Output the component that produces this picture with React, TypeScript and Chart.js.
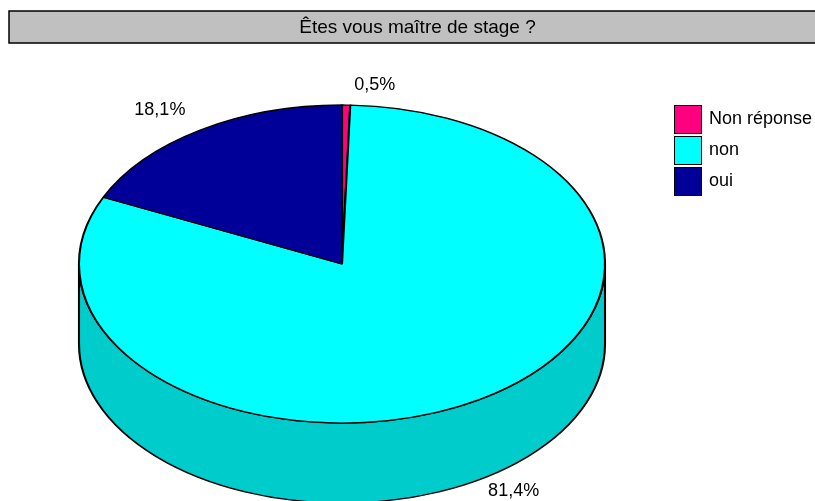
import React, { useEffect, useRef } from 'react';
import { Chart, registerables } from 'chart.js';
Chart.register(...registerables);

const TITLE = 'Êtes vous maître de stage ?';
const categories = ['Non réponse', 'non', 'oui'];
const values = [0.5, 81.4, 18.1];
const valueLabels = ['0,5%', '81,4%', '18,1%'];
const topColors = ['#FF0080', '#00FFFF', '#000099'];
const sideColors = ['#CC0066', '#00CCCC', '#000066'];

const W = 815;
const H = 501;
const CX = 342;
const CY = 264;
const RX = 263;
const RY = 159;
const DEPTH = 80;
const FONT = '"Liberation Sans", Arial, sans-serif';

const pie3d = {
  id: 'pie3d',
  beforeDatasetsDraw(chart: any) {
    const ctx = chart.ctx as CanvasRenderingContext2D;
    const meta = chart.getDatasetMeta(0);
    const first = meta.data[0] as any;
    const { x, y, outerRadius: R } = first.getProps(['x', 'y', 'outerRadius'], true);
    const sx = RX / R;
    const sy = RY / R;
    ctx.save();
    ctx.translate(CX, CY);
    ctx.scale(sx, sy);
    ctx.translate(-x, -y);
    const d = DEPTH / sy;
    meta.data.forEach((el: any, i: number) => {
      const p = el.getProps(['startAngle', 'endAngle'], true);
      for (let k = -1; k <= 1; k++) {
        const lo = Math.max(p.startAngle, 2 * Math.PI * k);
        const hi = Math.min(p.endAngle, Math.PI + 2 * Math.PI * k);
        if (hi > lo) {
          ctx.beginPath();
          ctx.moveTo(x + R * Math.cos(lo), y + R * Math.sin(lo));
          ctx.arc(x, y, R, lo, hi, false);
          ctx.lineTo(x + R * Math.cos(hi), y + d + R * Math.sin(hi));
          ctx.arc(x, y + d, R, hi, lo, true);
          ctx.closePath();
          ctx.fillStyle = sideColors[i];
          ctx.fill();
          ctx.lineWidth = 1.9;
          ctx.strokeStyle = '#000';
          ctx.lineJoin = 'round';
          ctx.stroke();
        }
      }
    });
  },
  afterDatasetsDraw(chart: any) {
    chart.ctx.restore();
  },
  afterDraw(chart: any) {
    const ctx = chart.ctx as CanvasRenderingContext2D;
    // title box
    ctx.save();
    ctx.fillStyle = '#C0C0C0';
    ctx.fillRect(9, 11, 817, 32);
    ctx.lineWidth = 1.5;
    ctx.strokeStyle = '#000';
    ctx.strokeRect(9, 11, 817, 32);
    ctx.fillStyle = '#000';
    ctx.font = `19px ${FONT}`;
    ctx.textAlign = 'center';
    ctx.textBaseline = 'middle';
    ctx.fillText(TITLE, 417.5, 28);

    // legend
    ctx.font = `18px ${FONT}`;
    categories.forEach((c, i) => {
      const by = 105 + i * 31;
      ctx.fillStyle = topColors[i];
      ctx.fillRect(674, by, 28, 29);
      ctx.lineWidth = 1;
      ctx.strokeStyle = '#000';
      ctx.strokeRect(674.5, by + 0.5, 27, 28);
      ctx.fillStyle = '#000';
      ctx.textAlign = 'left';
      ctx.textBaseline = 'middle';
      ctx.fillText(c, 709, by + 14);
    });

    // value labels
    const meta = chart.getDatasetMeta(0);
    meta.data.forEach((el: any, i: number) => {
      const p = el.getProps(['startAngle', 'endAngle'], true);
      const th = (p.startAngle + p.endAngle) / 2;
      const c = Math.cos(th);
      const s = Math.sin(th);
      const ex = CX + RX * c;
      const ey = CY + RY * s + (s > 0 ? DEPTH : 0);
      ctx.fillStyle = '#000';
      ctx.textBaseline = 'middle';
      if (c >= 0) {
        ctx.textAlign = 'left';
        ctx.fillText(valueLabels[i], ex + 8, ey + (s < 0 ? -20 : 12));
      } else {
        ctx.textAlign = 'right';
        ctx.fillText(valueLabels[i], ex - 15, ey + (s < 0 ? -20 : 12));
      }
    });
    ctx.restore();
  },
};

export default function App() {
  const ref = useRef<HTMLCanvasElement>(null);
  useEffect(() => {
    if (!ref.current) return;
    const chart = new Chart(ref.current, {
      type: 'pie',
      data: {
        labels: categories,
        datasets: [
          {
            data: values,
            backgroundColor: topColors,
            borderColor: '#000',
            borderWidth: 1.9,
            clip: false as any,
          },
        ],
      },
      options: {
        animation: false,
        responsive: false,
        devicePixelRatio: 1,
        layout: { padding: 10 },
        plugins: {
          legend: { display: false },
          title: { display: false },
          tooltip: { enabled: false },
        },
        events: [],
      },
      plugins: [pie3d],
    });
    return () => chart.destroy();
  }, []);
  return (
    <div style={{ position: 'fixed', left: 0, top: 0, width: W, height: H, background: '#fff' }}>
      <canvas ref={ref} width={W} height={H} style={{ width: W, height: H, display: 'block' }} />
    </div>
  );
}
